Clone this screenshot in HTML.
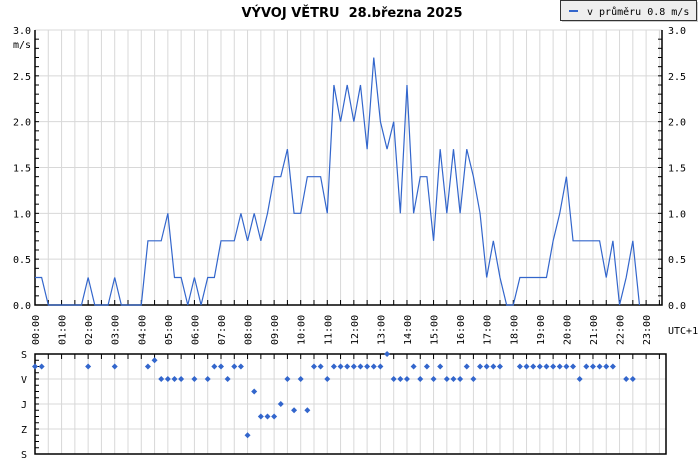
<!DOCTYPE html>
<html><head><meta charset="utf-8">
<style>
html,body{margin:0;padding:0;background:#fff;}
svg{display:block;}
text{font-family:"DejaVu Sans Mono","Liberation Mono",monospace;font-size:10px;fill:#000;}
</style></head>
<body>
<svg id="c" width="700" height="460" viewBox="0 0 700 460" xmlns="http://www.w3.org/2000/svg">
<text x="352" y="17" text-anchor="middle" style="font-family:'DejaVu Sans','Liberation Sans',sans-serif;font-weight:bold;font-size:13px">VÝVOJ VĚTRU&#160; 28.března 2025</text>
<g>
<rect x="562" y="2" width="136" height="20" fill="#ccc"/>
<rect x="560.5" y="0.5" width="136" height="20" fill="#eeeeee" stroke="#333"/>
<line x1="569" y1="11" x2="578" y2="11" stroke="#3366cc" stroke-width="2"/>
<text x="587" y="15">v průměru 0.8 m/s</text>
</g>
<g id="topPlot"></g>
<g id="botPlot"></g>
</svg>
<script>
// 15-minute samples starting 00:00
const speedValues = [0.3,0.3,0,0,0,0,0,0,0.3,0,0,0,0.3,0,0,0,0,0.7,0.7,0.7,1.0,0.3,0.3,0,0.3,0,0.3,0.3,0.7,0.7,0.7,1.0,0.7,1.0,0.7,1.0,1.4,1.4,1.7,1.0,1.0,1.4,1.4,1.4,1.0,2.4,2.0,2.4,2.0,2.4,1.7,2.7,2.0,1.7,2.0,1.0,2.4,1.0,1.4,1.4,0.7,1.7,1.0,1.7,1.0,1.7,1.4,1.0,0.3,0.7,0.3,0,0,0.3,0.3,0.3,0.3,0.3,0.7,1.0,1.4,0.7,0.7,0.7,0.7,0.7,0.3,0.7,0,0.3,0.7,0];
// direction in degrees (null = calm / no data)
const dirValues = [45,45,null,null,null,null,null,null,45,null,null,null,45,null,null,null,null,45,22.5,90,90,90,90,null,90,null,90,45,45,90,45,45,292.5,135,225,225,225,180,90,202.5,90,202.5,45,45,90,45,45,45,45,45,45,45,45,0,90,90,90,45,90,45,90,45,90,90,90,45,90,45,45,45,45,null,null,45,45,45,45,45,45,45,45,45,90,45,45,45,45,45,null,90,90,null];
const yTicks = [0,0.5,1.0,1.5,2.0,2.5,3.0];
const hourLabels = ["00:00","01:00","02:00","03:00","04:00","05:00","06:00","07:00","08:00","09:00","10:00","11:00","12:00","13:00","14:00","15:00","16:00","17:00","18:00","19:00","20:00","21:00","22:00","23:00"];
const dirLabels = ["S","V","J","Z","S"];

const NS="http://www.w3.org/2000/svg";
const L=35, TR=662, BR=666, T1=30, B1=305, T2=354, B2=454;
const HOUR=26.57;
const xT = h => L + h*HOUR;
const xS = i => xT(i/4);
const yV = v => B1 - v/3.0*(B1-T1);
const yD = d => T2 + d/360*(B2-T2);
function mk(p,tag,a){const e=document.createElementNS(NS,tag);for(const k in a)e.setAttribute(k,a[k]);p.appendChild(e);return e;}
const topG=document.getElementById('topPlot'), botG=document.getElementById('botPlot');

// top grid
for(let h=0.5;xT(h)<TR;h+=0.5){
  const g=mk(topG,'line',{x1:xT(h),x2:xT(h),y1:T1,y2:B1,stroke:'#d8d8d8'});
  
  
  const t=mk(topG,'line',{x1:xT(h),x2:xT(h),y1:B1,y2:B1-5,stroke:'#000'});
  
  
}
yTicks.forEach(v=>{
  if(v>0&&v<3){const g=mk(topG,'line',{x1:L,x2:TR,y1:yV(v),y2:yV(v),stroke:'#d8d8d8'});
  
  }
  const a=mk(topG,'text',{x:31,y:yV(v)+4,'text-anchor':'end'});a.textContent=v.toFixed(1);
  
  
  const b=mk(topG,'text',{x:668,y:yV(v)+4});b.textContent=v.toFixed(1);
  
  
});
for(let v=0.1;v<3;v+=0.1){
  mk(topG,'line',{x1:L,x2:L+4,y1:yV(v),y2:yV(v),stroke:'#000'});
  mk(topG,'line',{x1:TR,x2:TR-4,y1:yV(v),y2:yV(v),stroke:'#000'});
}
const unit=mk(topG,'text',{x:31,y:48,'text-anchor':'end'});unit.textContent='m/s';


mk(topG,'line',{x1:L,x2:TR,y1:T1,y2:T1,stroke:'#d8d8d8'});
const fr=mk(topG,'path',{d:`M${L} ${T1}V${B1}H${TR}V${T1}`,fill:'none',stroke:'#000','stroke-width':1.5});



// speed line
let d='';speedValues.forEach((v,i)=>{d+=(i?'L':'M')+xS(i).toFixed(2)+' '+yV(v).toFixed(2);});
const ln=mk(topG,'path',{d:d,fill:'none',stroke:'#3366cc','stroke-width':1.2});



// hour labels
hourLabels.forEach((s,h)=>{
  const t=mk(topG,'text',{transform:`translate(${xT(h)+4},345) rotate(-90)`});t.textContent=s;
  
  
});
const utc=mk(topG,'text',{x:668,y:334});utc.textContent='UTC+1';



// bottom grid
for(let h=0.5;xT(h)<BR;h+=0.5){
  const g=mk(botG,'line',{x1:xT(h),x2:xT(h),y1:T2,y2:B2,stroke:'#d8d8d8'});
  
  
  mk(botG,'line',{x1:xT(h),x2:xT(h),y1:T2,y2:T2+5,stroke:'#000'});
}
dirLabels.forEach((s,k)=>{
  const y=yD(k*90);
  if(k>0&&k<4){const g=mk(botG,'line',{x1:L,x2:BR,y1:y,y2:y,stroke:'#d8d8d8'});
  
  }
  const t=mk(botG,'text',{x:27,y:y+4,'text-anchor':'end'});t.textContent=s;
  
  
});
for(let dg=22.5;dg<360;dg+=22.5)mk(botG,'line',{x1:L,x2:L+4,y1:yD(dg),y2:yD(dg),stroke:'#000'});
const fr2=mk(botG,'rect',{x:L,y:T2,width:BR-L,height:B2-T2,fill:'none',stroke:'#000','stroke-width':1.5});


dirValues.forEach((v,i)=>{
  if(v===null)return;
  const x=xS(i),y=yD(v);
  const p=mk(botG,'path',{d:`M${x-3} ${y}L${x} ${y-3}L${x+3} ${y}L${x} ${y+3}Z`,fill:'#3366cc'});
  
  
});
</script>
</body></html>
